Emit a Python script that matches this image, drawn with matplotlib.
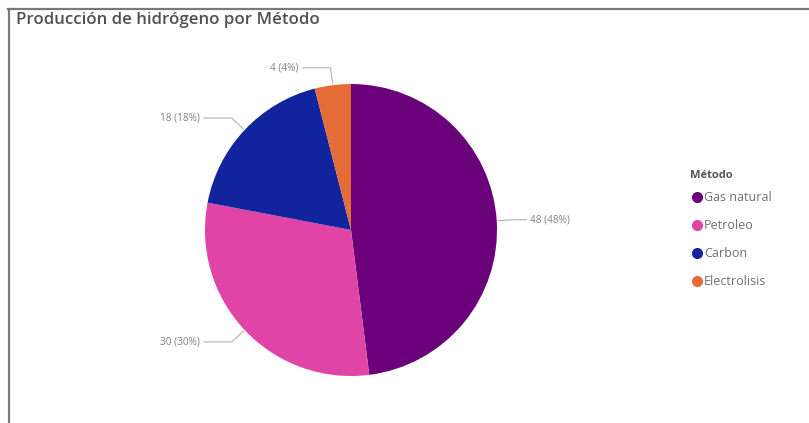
import numpy as np
import matplotlib
matplotlib.use("Agg")
import matplotlib.pyplot as plt
from matplotlib.lines import Line2D

# Producción de hidrógeno por método
metodos = ["Gas natural", "Petroleo", "Carbon", "Electrolisis"]
valores = [48, 30, 18, 4]
colores = ["#6B007B", "#E044A7", "#12239E", "#E66C37"]
titulo = "Producción de hidrógeno por Método"
titulo_leyenda = "Método"

plt.rcParams["font.family"] = ["Open Sans", "DejaVu Sans"]

W, H = 809, 423
fig = plt.figure(figsize=(W / 100, H / 100), dpi=100)
fig.patch.set_facecolor("white")

# frame lines (top and left)
fig.add_artist(Line2D([8 / W, 1], [1 - 9 / H, 1 - 9 / H], color="#7a7a7a", lw=1.6))
fig.add_artist(Line2D([8.5 / W, 8.5 / W], [0, 1 - 9 / H], color="#7a7a7a", lw=1.6))

fig.text(16 / W, 1 - 20 / H, titulo, fontsize=12.2, color="#505050",
         fontweight="semibold", va="center", ha="left")

# pie axes: centre (351, 230) px, radius 146 px
cx, cy, r = 351, 230, 146
lim = 1.1
size = 2 * lim * r
ax = fig.add_axes([(cx - size / 2) / W, (H - cy - size / 2) / H, size / W, size / H])

wedges, _ = ax.pie(valores, colors=colores, startangle=90, counterclock=False,
                   radius=1.0, wedgeprops=dict(linewidth=0))
ax.set_xlim(-lim, lim)
ax.set_ylim(-lim, lim)
ax.set_aspect("equal")
ax.axis("off")

total = sum(valores)
for w, v in zip(wedges, valores):
    ang = np.deg2rad((w.theta1 + w.theta2) / 2)
    x0, y0 = np.cos(ang), np.sin(ang)
    x1, y1 = 1.12 * x0, 1.12 * y0
    side = 1 if x0 >= 0 else -1
    x2 = x1 + side * (0.08 if side > 0 else 0.19)
    ax.plot([x0 * 1.01, x1, x2], [y0 * 1.01, y1, y1], color="#b0b0b0",
            lw=0.8, clip_on=False)
    ax.text(x2 + side * 0.03, y1, f"{v} ({round(100 * v / total)}%)",
            fontsize=7.2, color="#808080", va="center",
            ha="left" if side > 0 else "right")

handles = [Line2D([], [], marker="o", linestyle="none", markersize=7,
                  markerfacecolor=c, markeredgecolor=c) for c in colores]
leg = fig.legend(handles, metodos, loc="upper left",
                 bbox_to_anchor=(684 / W, 1 - 164 / H), frameon=False,
                 title=titulo_leyenda, fontsize=9, handletextpad=0.0,
                 labelspacing=1.2, handlelength=1.1, borderpad=0,
                 title_fontproperties={"weight": "bold", "size": 8})
leg._legend_box.align = "left"
leg._legend_box.sep = 7
leg.get_title().set_color("#555555")
for t in leg.get_texts():
    t.set_color("#707070")

fig.savefig("out.png", dpi=100)
